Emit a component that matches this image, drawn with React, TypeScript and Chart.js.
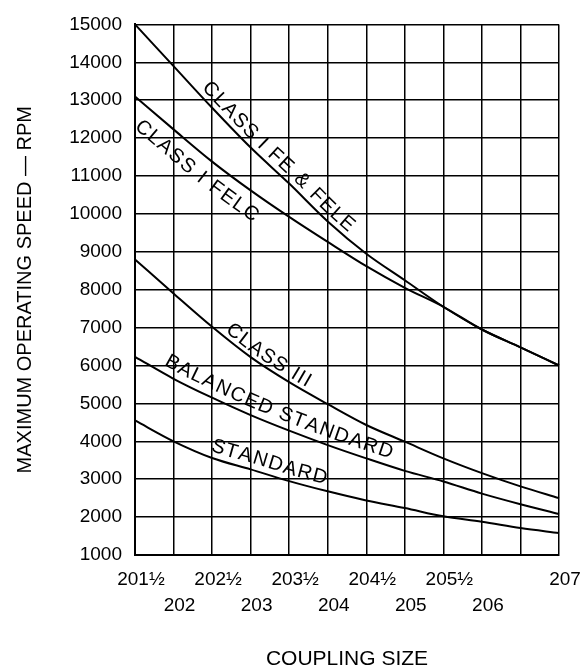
import React, { useEffect, useRef } from "react";
import { Chart, registerables } from "chart.js";

Chart.register(...registerables);

// ---------- data ----------
const couplingSizes = ["201½", "202", "202½", "203", "203½", "204", "204½", "205", "205½", "206", "206½", "207"];
const xLabelsUpper = ["201½", "", "202½", "", "203½", "", "204½", "", "205½", "", "", "207"];
const xLabelsLower = ["", "202", "", "203", "", "204", "", "205", "", "206", "", ""];

const classIFeFele = [15000, 13900, 12800, 11750, 10800, 9800, 8950, 8250, 7550, 6950, 6480, 6000];
const classIFelc = [13100, 12230, 11380, 10620, 9920, 9260, 8620, 8050, 7550, 6950, 6480, 6000];
const classIII = [8800, 7900, 7020, 6220, 5560, 4980, 4430, 3990, 3550, 3160, 2810, 2500];
const balancedStandard = [6230, 5650, 5150, 4690, 4280, 3900, 3550, 3220, 2940, 2620, 2340, 2080];
const standard = [4550, 4000, 3560, 3260, 2950, 2680, 2440, 2240, 2020, 1880, 1710, 1580];

const curveNames = ["CLASS I FE & FELE", "CLASS I FELC", "CLASS III", "BALANCED STANDARD", "STANDARD"];

const yMin = 1000;
const yMax = 15000;
const yStep = 1000;

const xTitle = "COUPLING SIZE";
const yTitle = "MAXIMUM OPERATING SPEED — RPM";

// ---------- style / placement ----------
const FONT = "'Liberation Sans', Arial, Helvetica, sans-serif";
// start position (category index along the curve) and perpendicular offset in px (+ above, - below)
const labelPlacement = [
  { start: 1.62, offset: 11 },
  { start: 0.39, offset: -19 },
  { start: 2.26, offset: 10 },
  { start: 0.65, offset: 13 },
  { start: 1.9, offset: 12 },
];

type P = { x: number; y: number };

function buildPath(points: any[]): P[] {
  const poly: P[] = [];
  for (let i = 0; i < points.length - 1; i++) {
    const a = points[i];
    const b = points[i + 1];
    const p0 = { x: a.x, y: a.y };
    const p1 = { x: a.cp2x ?? a.x, y: a.cp2y ?? a.y };
    const p2 = { x: b.cp1x ?? b.x, y: b.cp1y ?? b.y };
    const p3 = { x: b.x, y: b.y };
    const N = 24;
    for (let k = 0; k < N; k++) {
      const t = k / N;
      const u = 1 - t;
      poly.push({
        x: u * u * u * p0.x + 3 * u * u * t * p1.x + 3 * u * t * t * p2.x + t * t * t * p3.x,
        y: u * u * u * p0.y + 3 * u * u * t * p1.y + 3 * u * t * t * p2.y + t * t * t * p3.y,
      });
    }
  }
  const last = points[points.length - 1];
  poly.push({ x: last.x, y: last.y });
  return poly;
}

function pointAt(poly: P[], cum: number[], s: number) {
  let i = 1;
  while (i < cum.length - 1 && cum[i] < s) i++;
  const s0 = cum[i - 1];
  const s1 = cum[i];
  const t = s1 > s0 ? (s - s0) / (s1 - s0) : 0;
  const a = poly[i - 1];
  const b = poly[i];
  return {
    x: a.x + (b.x - a.x) * t,
    y: a.y + (b.y - a.y) * t,
    ang: Math.atan2(b.y - a.y, b.x - a.x),
  };
}

const curveTextPlugin = {
  id: "curveText",
  afterDatasetsDraw(chart: any) {
    const ctx = chart.ctx as CanvasRenderingContext2D;
    const xScale = chart.scales.x;
    ctx.save();
    ctx.font = `20px ${FONT}`;
    ctx.fillStyle = "#000";
    ctx.textAlign = "center";
    ctx.textBaseline = "middle";
    chart.data.datasets.forEach((_ds: any, di: number) => {
      const meta = chart.getDatasetMeta(di);
      const poly = buildPath(meta.data);
      const cum = [0];
      for (let i = 1; i < poly.length; i++) {
        cum.push(cum[i - 1] + Math.hypot(poly[i].x - poly[i - 1].x, poly[i].y - poly[i - 1].y));
      }
      const place = labelPlacement[di];
      const startX = xScale.getPixelForValue(place.start);
      let s = 0;
      for (let i = 1; i < poly.length; i++) {
        if (poly[i].x >= startX) {
          const f = (startX - poly[i - 1].x) / (poly[i].x - poly[i - 1].x || 1);
          s = cum[i - 1] + f * (cum[i] - cum[i - 1]);
          break;
        }
      }
      const spacing = 1.5;
      for (const ch of curveNames[di]) {
        const w = ctx.measureText(ch).width;
        const mid = s + w / 2;
        const p = pointAt(poly, cum, mid);
        const nx = Math.sin(p.ang);
        const ny = -Math.cos(p.ang);
        ctx.save();
        ctx.translate(p.x + nx * place.offset, p.y + ny * place.offset);
        ctx.rotate(p.ang);
        ctx.fillText(ch, 0, 0);
        ctx.restore();
        s += w + spacing;
      }
    });
    ctx.restore();
  },
};

export default function App() {
  const canvasRef = useRef<HTMLCanvasElement | null>(null);

  useEffect(() => {
    if (!canvasRef.current) return;
    Chart.defaults.font.family = FONT;
    const series = [classIFeFele, classIFelc, classIII, balancedStandard, standard];
    const chart = new Chart(canvasRef.current, {
      type: "line",
      data: {
        labels: couplingSizes,
        datasets: series.map((d, i) => ({
          label: curveNames[i],
          data: d,
          borderColor: "#000",
          borderWidth: 2,
          pointRadius: 0,
          fill: false,
          cubicInterpolationMode: "monotone" as const,
        })),
      },
      options: {
        responsive: false,
        animation: false,
        layout: { padding: { top: 18, right: 28, bottom: 0, left: 0 } },
        plugins: { legend: { display: false }, tooltip: { enabled: false } },
        scales: {
          x: {
            type: "category",
            offset: false,
            grid: { color: "#000", lineWidth: 1.5, drawTicks: false },
            border: { color: "#000", width: 2 },
            ticks: {
              autoSkip: false,
              maxRotation: 0,
              minRotation: 0,
              padding: 12,
              labelOffset: 6,
              color: "#000",
              font: { family: FONT, size: 19, lineHeight: 1.37 },
              callback: (_v: any, i: number) => [xLabelsUpper[i], xLabelsLower[i]],
            },
            title: {
              display: true,
              text: xTitle,
              color: "#000",
              font: { family: FONT, size: 21, lineHeight: 1 },
              padding: { top: 0, bottom: 0 },
            },
            afterFit: (s: any) => {
              s.height = 115;
            },
          },
          y: {
            min: yMin,
            max: yMax,
            grid: { color: "#000", lineWidth: 1.5, drawTicks: false },
            border: { color: "#000", width: 2 },
            ticks: {
              stepSize: yStep,
              padding: 13,
              color: "#000",
              font: { family: FONT, size: 19 },
              callback: (v: any) => String(v),
            },
            title: {
              display: true,
              text: yTitle,
              color: "#000",
              font: { family: FONT, size: 20 },
              padding: { top: 13, bottom: 0 },
            },
            afterFit: (s: any) => {
              s.width = 135;
            },
          },
        },
      },
      plugins: [curveTextPlugin],
    } as any);
    return () => chart.destroy();
  }, []);

  return (
    <div style={{ position: "absolute", left: 0, top: 0, width: 587, height: 670, background: "#fff" }}>
      <canvas ref={canvasRef} width={587} height={670} style={{ display: "block" }} />
    </div>
  );
}
